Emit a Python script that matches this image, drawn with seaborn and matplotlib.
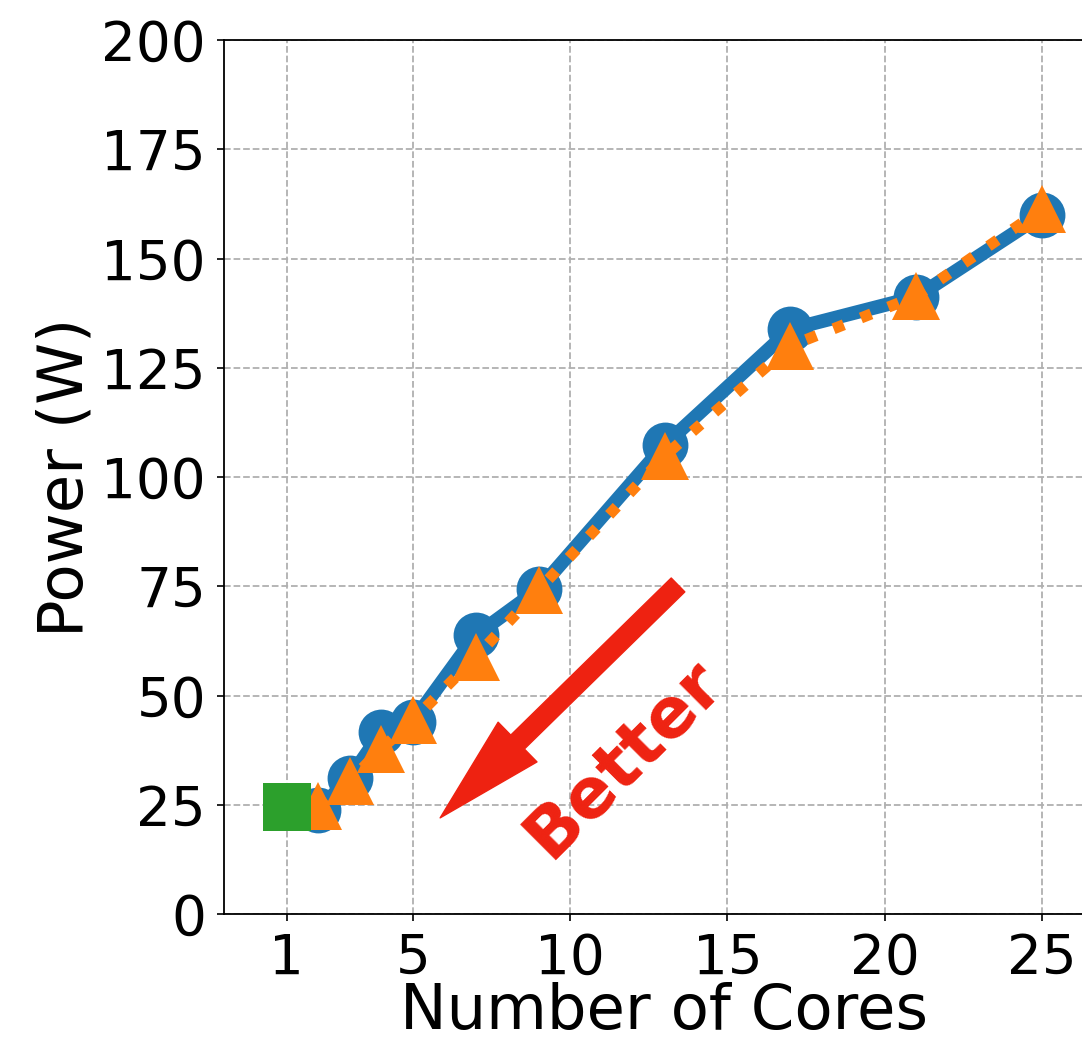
import matplotlib
matplotlib.use("Agg")
import matplotlib.pyplot as plt
import seaborn as sns
import pandas as pd

# ---- data ----
cores = [2, 3, 4, 5, 7, 9, 13, 17, 21, 25]
power_a = [23.8, 31.2, 41.6, 44.0, 63.8, 74.3, 107.3, 133.8, 141.2, 160.0]
power_b = [24.6, 30.4, 37.8, 44.3, 58.8, 74.2, 104.8, 130.0, 141.4, 161.3]
single_core = [1]
single_power = [24.5]
x_ticks = [1, 5, 10, 15, 20, 25]
y_ticks = [0, 25, 50, 75, 100, 125, 150, 175, 200]

sns.set_style("white")
plt.rcParams['font.family'] = ['DejaVu Sans']
plt.rcParams['text.color'] = 'black'
plt.rcParams['axes.labelcolor'] = 'black'
plt.rcParams['xtick.color'] = 'black'
plt.rcParams['ytick.color'] = 'black'

W, H = 1082, 1046
fig = plt.figure(figsize=(W / 100, H / 100), dpi=100)
left, right, top, bottom = 224, 1105, 40, 914
ax = fig.add_axes([left / W, (H - bottom) / H, (right - left) / W, (bottom - top) / H])

df_a = pd.DataFrame({"cores": cores, "power": power_a})
df_b = pd.DataFrame({"cores": cores, "power": power_b})
df_s = pd.DataFrame({"cores": single_core, "power": single_power})

blue, orange, green = "#1f77b4", "#ff7f0e", "#2ca02c"

sns.lineplot(data=df_a, x="cores", y="power", ax=ax, color=blue, linewidth=10,
             marker="o", markersize=33, markeredgecolor=blue, markeredgewidth=0,
             zorder=3)
sns.lineplot(data=df_b, x="cores", y="power", ax=ax, color=orange, linewidth=8,
             linestyle=":", marker="^", markersize=34, markeredgecolor=orange,
             markeredgewidth=0, zorder=4)
sns.scatterplot(data=df_s, x="cores", y="power", ax=ax, color=green, marker="s",
                s=34 ** 2, linewidth=0, zorder=5)

ax.set_xlim(-1, 27)
ax.set_ylim(0, 200)
ax.set_xticks(x_ticks)
ax.set_yticks(y_ticks)
ax.set_xticklabels([str(t) for t in x_ticks], fontsize=39.5, color="black")
ax.set_yticklabels([str(t) for t in y_ticks], fontsize=39.5, color="black")
ax.tick_params(axis="both", direction="out", length=5, width=1.2, pad=8,
               bottom=True, left=True, color="black")
ax.set_xlabel("Number of Cores", fontsize=45, labelpad=-3, color="black")
ax.set_ylabel("Power (W)", fontsize=45, labelpad=4, color="black")

ax.grid(True, linestyle="--", color="#b0b0b0", linewidth=1.3)
ax.set_axisbelow(True)
for s in ax.spines.values():
    s.set_color("black")
    s.set_linewidth(1.3)

red = "#ee2211"
ax.annotate("", xy=(5.87, 22), xytext=(13.43, 75.3),
            arrowprops=dict(facecolor=red, edgecolor=red, width=14,
                            headwidth=40, headlength=78), zorder=6)
ax.text(11.7, 35.5, "Better", color=red, fontsize=50, fontweight="bold",
        rotation=45, ha="center", va="center", rotation_mode="anchor", zorder=6)

if ax.get_legend() is not None:
    ax.get_legend().remove()

fig.savefig("out.png", dpi=100)
